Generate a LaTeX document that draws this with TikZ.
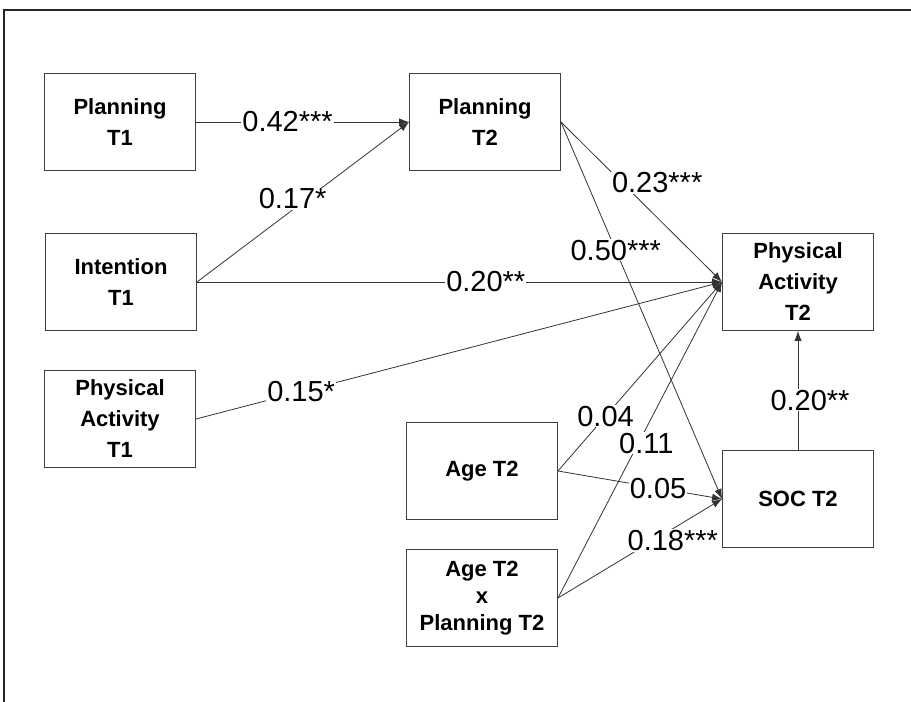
\documentclass[tikz,border=0pt]{standalone}
\usepackage{fontspec}
\setmainfont{Liberation Sans}
\usetikzlibrary{arrows.meta}

\begin{document}
\begin{tikzpicture}[x=1pt,y=-1pt,
   var/.style={draw=black!75,line width=0.9pt,minimum width=151pt,minimum height=97pt,
     align=center,inner sep=0pt,font=\fontsize{22}{31}\selectfont\bfseries},
   path/.style={draw=black!80,line width=0.8pt,-{Latex[length=10pt,width=7.5pt]}},
   coef/.style={fill=white,inner sep=1pt,font=\fontsize{29}{34}\selectfont}]
   \useasboundingbox (0,0) rectangle (911,702);
   \draw[line width=1.6pt,black!85] (4,702) -- (4,10) -- (911,10);

   % left column
   \node[var] (plan1) at (120,122) {Planning\\T1};
   \node[var] (int1) at (121,282) {Intention\\T1};
   \node[var] (pa1) at (120,419) {Physical\\Activity\\T1};
   % middle column
   \node[var] (plan2) at (485,122) {Planning\\T2};
   \node[var] (age2) at (482,471) {Age T2};
   \node[var,font=\fontsize{22}{27}\selectfont\bfseries] (ageplan2) at (482,598) {Age T2\\x\\Planning T2};
   % right column
   \node[var] (pa2) at (798,282) {Physical\\Activity\\T2};
   \node[var] (soc2) at (798,499) {SOC T2};

   \draw[path] (plan1.east) -- node[coef,pos=.43]{0.42***} (plan2.west);
   \draw[path] (int1.east) -- node[coef,pos=.47,yshift=8,xshift=-4]{0.17*} (plan2.west);
   \draw[path] (int1.east) -- node[coef,pos=.55]{0.20**} (pa2.west);
   \draw[path] (pa1.east) -- node[coef,pos=.2]{0.15*} (pa2.west);
   \draw[path] (plan2.east) -- node[coef,pos=.38,xshift=35]{0.23***} (pa2.west);
   \draw[path] (plan2.east) -- node[coef,pos=.34]{0.50***} (soc2.west);
   \draw[path] (age2.east) -- node[coef,pos=.29]{0.04} (pa2.west);
   \draw[path] (ageplan2.east) -- node[coef,pos=.49,xshift=8]{0.11} (pa2.west);
   \draw[path] (age2.east) -- node[coef,pos=.61]{0.05} (soc2.west);
   \draw[path] (ageplan2.east) -- node[coef,pos=.7,yshift=-12]{0.18***} (soc2.west);
   \draw[path] (soc2.north) -- node[coef,pos=.42,xshift=12]{0.20**} (pa2.south);
\end{tikzpicture}
\end{document}
